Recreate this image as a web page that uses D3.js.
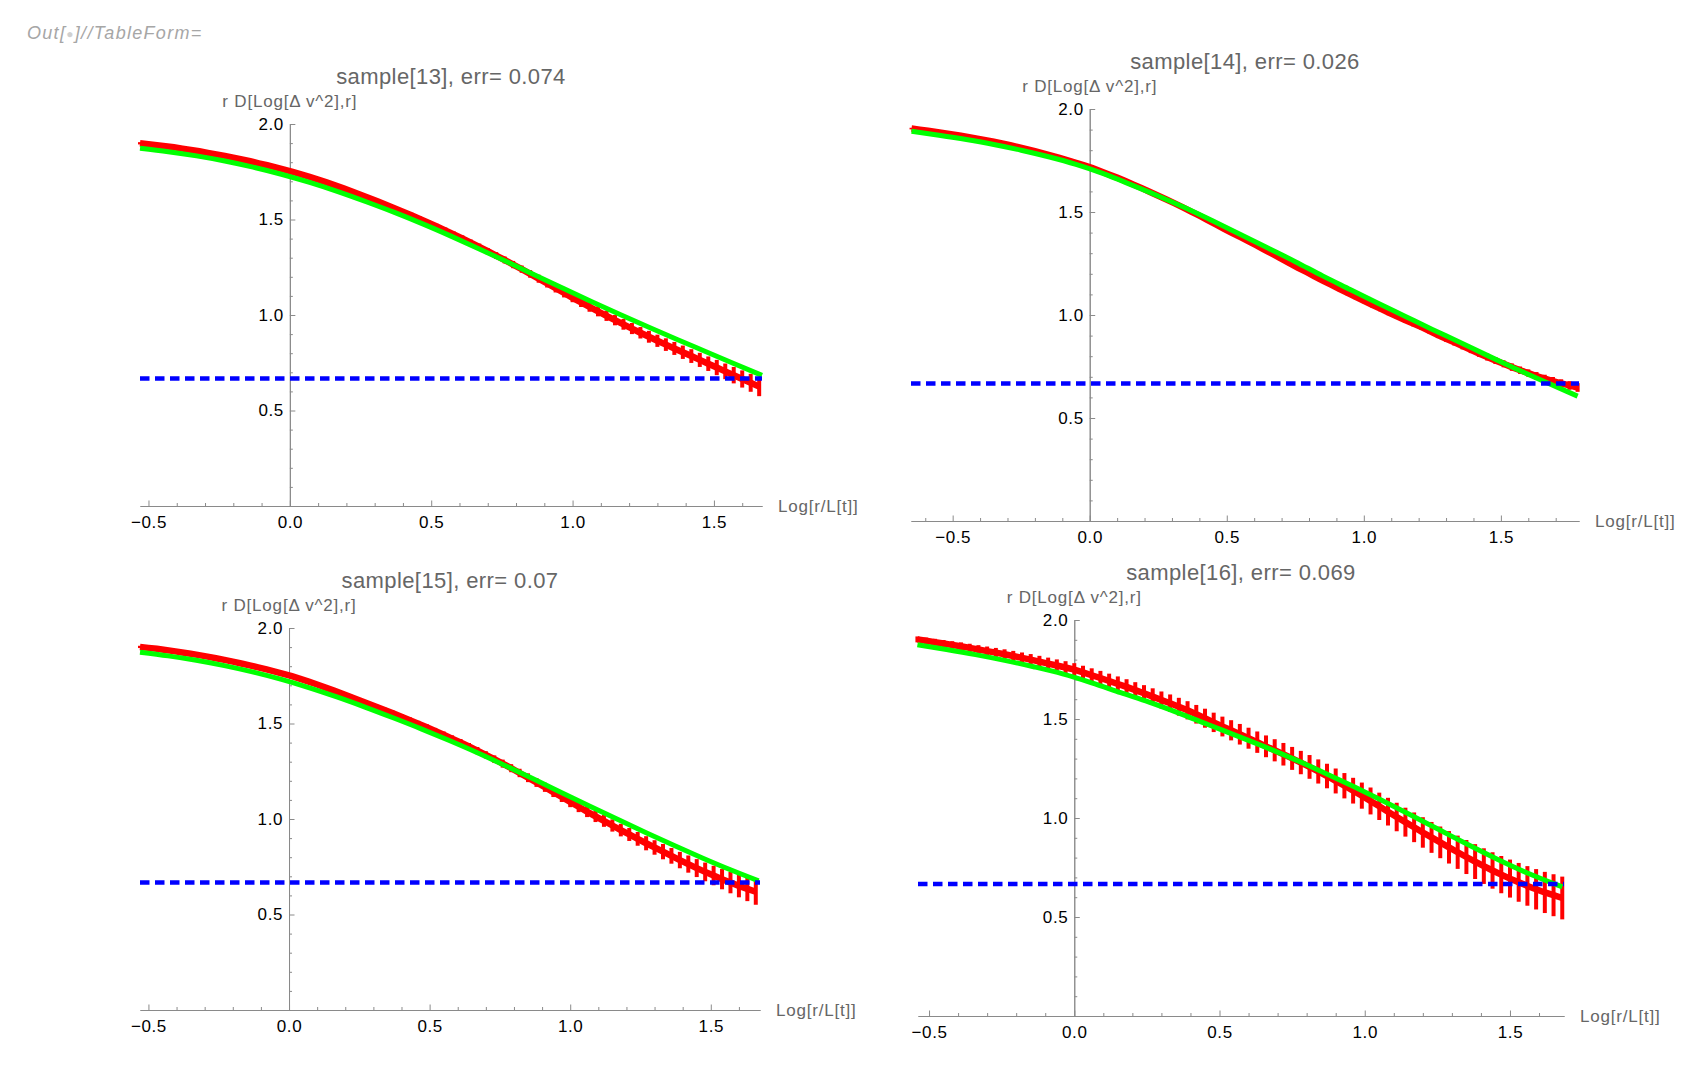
<!DOCTYPE html>
<html>
<head>
<meta charset="utf-8">
<script src="https://cdn.jsdelivr.net/npm/d3@7"></script>
<style>
  body { margin: 0; background: #fff; }
  text { font-family: "Liberation Sans", Arial, sans-serif; }
</style>
</head>
<body>
<svg id="chart" width="1698" height="1078"></svg>
<script>
// ---- data ----
const sampleIds = [13, 14, 15, 16];
const errLabels = ["0.074", "0.026", "0.07", "0.069"];
const xTicks = [-0.5, 0, 0.5, 1.0, 1.5];
const yTicks = [0.5, 1.0, 1.5, 2.0];
const plateauLevel = 0.667; // blue dashed reference
const xDomains = [[-0.53, 1.67], [-0.652, 1.785], [-0.53, 1.675], [-0.538, 1.686]];

// x grids of the red error-bar points
const xGridA = [-0.53,-0.50,-0.47,-0.44,-0.41,-0.38,-0.35,-0.32,-0.29,-0.26,
  -0.23,-0.20,-0.17,-0.14,-0.11,-0.08,-0.05,-0.02,0.01,0.04,
  0.07,0.10,0.13,0.16,0.19,0.22,0.25,0.28,0.31,0.34,
  0.37,0.40,0.43,0.46,0.49,0.52,0.55,0.58,0.61,0.64,
  0.67,0.70,0.73,0.76,0.79,0.82,0.85,0.88,0.91,0.94,
  0.97,1.00,1.03,1.06,1.09,1.12,1.15,1.18,1.21,1.24,
  1.27,1.30,1.33,1.36,1.39,1.42,1.45,1.48,1.51,1.54,
  1.57,1.60,1.63,1.66];
const xGridB = [-0.65,-0.62,-0.59,-0.56,-0.53,-0.50,-0.47,-0.44,-0.41,-0.38,
  -0.35,-0.32,-0.29,-0.26,-0.23,-0.20,-0.17,-0.14,-0.11,-0.08,
  -0.05,-0.02,0.01,0.04,0.07,0.10,0.13,0.16,0.19,0.22,
  0.25,0.28,0.31,0.34,0.37,0.40,0.43,0.46,0.49,0.52,
  0.55,0.58,0.61,0.64,0.67,0.70,0.73,0.76,0.79,0.82,
  0.85,0.88,0.91,0.94,0.97,1.00,1.03,1.06,1.09,1.12,
  1.15,1.18,1.21,1.24,1.27,1.30,1.33,1.36,1.39,1.42,
  1.45,1.48,1.51,1.54,1.57,1.60,1.63,1.66,1.69,1.72,
  1.75,1.78];
const xGridD = [-0.54,-0.51,-0.48,-0.45,-0.42,-0.39,-0.36,-0.33,-0.30,-0.27,
  -0.24,-0.21,-0.18,-0.15,-0.12,-0.09,-0.06,-0.03,0.00,0.03,
  0.06,0.09,0.12,0.15,0.18,0.21,0.24,0.27,0.30,0.33,
  0.36,0.39,0.42,0.45,0.48,0.51,0.54,0.57,0.60,0.63,
  0.66,0.69,0.72,0.75,0.78,0.81,0.84,0.87,0.90,0.93,
  0.96,0.99,1.02,1.05,1.08,1.11,1.14,1.17,1.20,1.23,
  1.26,1.29,1.32,1.35,1.38,1.41,1.44,1.47,1.50,1.53,
  1.56,1.59,1.62,1.65,1.68];

// red measured values (mean) and half error
const red13 = [1.899,1.894,1.889,1.884,1.878,1.871,1.864,1.857,1.849,1.841,
  1.833,1.824,1.814,1.805,1.794,1.784,1.773,1.761,1.749,1.736,
  1.723,1.709,1.694,1.679,1.663,1.646,1.629,1.612,1.595,1.577,
  1.559,1.541,1.522,1.503,1.483,1.463,1.443,1.422,1.401,1.379,
  1.357,1.334,1.311,1.288,1.264,1.240,1.215,1.190,1.165,1.140,
  1.115,1.090,1.066,1.042,1.019,0.996,0.973,0.951,0.929,0.907,
  0.886,0.865,0.845,0.825,0.805,0.785,0.765,0.745,0.725,0.705,
  0.685,0.665,0.645,0.625];
const err13 = [0.006,0.006,0.006,0.006,0.006,0.007,0.007,0.007,0.007,0.007,
  0.007,0.007,0.008,0.008,0.008,0.008,0.008,0.009,0.009,0.009,
  0.009,0.010,0.010,0.010,0.010,0.011,0.011,0.011,0.012,0.012,
  0.012,0.013,0.013,0.013,0.014,0.014,0.015,0.015,0.016,0.016,
  0.017,0.017,0.018,0.018,0.019,0.019,0.020,0.021,0.021,0.022,
  0.023,0.023,0.024,0.025,0.026,0.027,0.027,0.028,0.029,0.030,
  0.031,0.032,0.033,0.034,0.035,0.036,0.037,0.038,0.040,0.041,
  0.043,0.045,0.047,0.050];

const red14 = [1.905,1.900,1.894,1.888,1.882,1.876,1.870,1.863,1.856,1.849,
  1.841,1.833,1.824,1.815,1.805,1.795,1.785,1.774,1.763,1.751,
  1.739,1.727,1.713,1.698,1.682,1.667,1.651,1.633,1.616,1.597,
  1.579,1.561,1.542,1.522,1.502,1.482,1.461,1.440,1.418,1.398,
  1.378,1.357,1.337,1.315,1.294,1.272,1.251,1.229,1.209,1.188,
  1.167,1.147,1.127,1.108,1.088,1.069,1.049,1.031,1.012,0.994,
  0.976,0.959,0.941,0.922,0.903,0.885,0.867,0.849,0.831,0.813,
  0.796,0.779,0.763,0.747,0.732,0.718,0.704,0.691,0.679,0.668,
  0.658,0.648];
const err14 = [0.004,0.004,0.004,0.004,0.004,0.004,0.004,0.004,0.004,0.004,
  0.004,0.004,0.005,0.005,0.005,0.005,0.005,0.005,0.005,0.005,
  0.006,0.006,0.006,0.006,0.006,0.006,0.006,0.006,0.006,0.006,
  0.006,0.007,0.007,0.007,0.007,0.007,0.008,0.008,0.008,0.008,
  0.008,0.009,0.009,0.009,0.009,0.010,0.010,0.010,0.010,0.011,
  0.011,0.011,0.011,0.012,0.012,0.012,0.012,0.013,0.013,0.013,
  0.013,0.014,0.014,0.014,0.015,0.015,0.015,0.016,0.016,0.016,
  0.017,0.017,0.017,0.018,0.018,0.018,0.019,0.019,0.020,0.020,
  0.021,0.021];

const red15 = [1.901,1.896,1.891,1.885,1.879,1.872,1.865,1.858,1.850,1.842,
  1.833,1.824,1.814,1.804,1.794,1.783,1.772,1.760,1.748,1.734,
  1.719,1.704,1.688,1.672,1.655,1.638,1.621,1.604,1.587,1.570,
  1.553,1.535,1.517,1.499,1.480,1.461,1.441,1.421,1.401,1.380,
  1.358,1.336,1.313,1.290,1.266,1.241,1.216,1.191,1.166,1.140,
  1.115,1.089,1.064,1.039,1.014,0.990,0.966,0.942,0.919,0.896,
  0.873,0.851,0.829,0.807,0.785,0.764,0.743,0.723,0.704,0.685,
  0.667,0.650,0.634,0.619];
const err15 = [0.006,0.006,0.006,0.006,0.007,0.007,0.007,0.007,0.007,0.008,
  0.008,0.008,0.008,0.009,0.009,0.009,0.009,0.010,0.010,0.010,
  0.010,0.011,0.011,0.011,0.012,0.012,0.012,0.013,0.013,0.013,
  0.014,0.014,0.015,0.015,0.016,0.016,0.017,0.017,0.018,0.018,
  0.019,0.019,0.020,0.021,0.021,0.022,0.023,0.023,0.024,0.025,
  0.026,0.027,0.028,0.029,0.030,0.031,0.032,0.033,0.034,0.036,
  0.037,0.038,0.040,0.041,0.043,0.045,0.047,0.049,0.051,0.053,
  0.056,0.060,0.064,0.068];

const red16 = [1.902,1.895,1.888,1.881,1.874,1.867,1.859,1.851,1.843,1.835,
  1.827,1.818,1.809,1.800,1.790,1.780,1.770,1.760,1.749,1.735,
  1.721,1.707,1.692,1.677,1.662,1.646,1.630,1.613,1.596,1.580,
  1.562,1.544,1.524,1.504,1.483,1.462,1.443,1.423,1.403,1.383,
  1.362,1.342,1.322,1.301,1.280,1.258,1.235,1.212,1.187,1.163,
  1.138,1.113,1.086,1.059,1.032,1.005,0.979,0.953,0.927,0.902,
  0.877,0.852,0.827,0.803,0.780,0.757,0.735,0.714,0.694,0.675,
  0.657,0.640,0.624,0.610,0.596];
const err16 = [0.015,0.016,0.017,0.018,0.019,0.020,0.021,0.022,0.023,0.024,
  0.025,0.026,0.027,0.028,0.029,0.030,0.031,0.032,0.033,0.034,
  0.035,0.036,0.037,0.038,0.039,0.040,0.041,0.042,0.043,0.044,
  0.045,0.046,0.047,0.048,0.049,0.050,0.051,0.052,0.053,0.054,
  0.055,0.056,0.057,0.058,0.059,0.060,0.061,0.062,0.063,0.064,
  0.065,0.066,0.068,0.069,0.070,0.072,0.073,0.075,0.077,0.078,
  0.080,0.082,0.084,0.086,0.088,0.090,0.092,0.094,0.096,0.098,
  0.100,0.102,0.104,0.106,0.108];

// green fitted curves
const greenXA = [-0.53,-0.43,-0.33,-0.23,-0.13,-0.03,0.07,0.17,0.27,0.37,0.47,0.57,
  0.67,0.77,0.87,0.97,1.07,1.17,1.27,1.37,1.47,1.57,1.67];
const greenXB = [-0.65,-0.55,-0.45,-0.35,-0.25,-0.15,-0.05,0.05,0.15,0.25,0.35,0.45,
  0.55,0.65,0.75,0.85,0.95,1.05,1.15,1.25,1.35,1.45,1.55,1.65,1.78];
const greenXD = [-0.54,-0.44,-0.34,-0.24,-0.14,-0.04,0.06,0.16,0.26,0.36,0.46,0.56,
  0.66,0.76,0.86,0.96,1.06,1.16,1.26,1.36,1.46,1.56,1.68];
const green13 = [1.873,1.855,1.833,1.806,1.774,1.737,1.694,1.646,1.593,1.537,1.477,1.413,
  1.346,1.277,1.207,1.137,1.068,1.001,0.936,0.872,0.809,0.746,0.684];
const green14 = [1.892,1.873,1.852,1.828,1.800,1.768,1.731,1.686,1.633,1.578,1.519,1.456,
  1.391,1.325,1.259,1.190,1.124,1.058,0.994,0.930,0.868,0.804,0.742,0.682,0.606];
const green15 = [1.873,1.854,1.831,1.803,1.770,1.732,1.688,1.639,1.586,1.530,1.472,1.411,
  1.347,1.279,1.209,1.138,1.067,0.997,0.928,0.861,0.796,0.734,0.676];
const green16 = [1.875,1.851,1.825,1.796,1.764,1.728,1.683,1.633,1.584,1.530,1.472,1.415,
  1.357,1.295,1.229,1.160,1.088,1.014,0.938,0.862,0.789,0.722,0.652];

const panels = [
  { id: sampleIds[0], err: errLabels[0], xDomain: xDomains[0], rx: xGridA, ry: red13, re: err13, gx: greenXA, gy: green13 },
  { id: sampleIds[1], err: errLabels[1], xDomain: xDomains[1], rx: xGridB, ry: red14, re: err14, gx: greenXB, gy: green14 },
  { id: sampleIds[2], err: errLabels[2], xDomain: xDomains[2], rx: xGridA, ry: red15, re: err15, gx: greenXA, gy: green15 },
  { id: sampleIds[3], err: errLabels[3], xDomain: xDomains[3], rx: xGridD, ry: red16, re: err16, gx: greenXD, gy: green16 }
];

// plot boxes on the page
const boxes = [
  { left: 140, right: 762, top: 124, bottom: 506 },
  { left: 911, right: 1579, top: 109, bottom: 521 },
  { left: 140, right: 760, top: 628, bottom: 1010 },
  { left: 918, right: 1564, top: 620, bottom: 1016 }
];

const svg = d3.select("#chart");
const axisColor = "#8a8a8a";
const labelColor = "#666666";

// notebook output label
const out = svg.append("text")
  .attr("x", 27).attr("y", 39)
  .attr("font-size", 18).attr("font-style", "italic")
  .attr("letter-spacing", 1.3)
  .attr("fill", "#a6a6a6");
out.append("tspan").text("Out[");
out.append("tspan").attr("fill", "#d0d0d0").attr("font-size", 12).attr("dy", -1).text("\u25CF");
out.append("tspan").attr("dy", 1).text("]//TableForm=");

const fmt = d => (d < 0 ? "\u2212" : "") + Math.abs(d).toFixed(1);

function drawPanel(p, box) {
  const x = d3.scaleLinear().domain(p.xDomain).range([box.left, box.right]);
  const y = d3.scaleLinear().domain([0, 2]).range([box.bottom, box.top]);
  const g = svg.append("g");

  // x axis: minor then major ticks, pointing into the plot
  const minorX = d3.range(Math.ceil(p.xDomain[0] * 10), Math.floor(p.xDomain[1] * 10) + 1)
    .map(v => v / 10)
    .filter(v => !xTicks.some(t => Math.abs(t - v) < 1e-9));
  const xAxisMinor = g.append("g")
    .attr("transform", `translate(0,${y(0)})`)
    .call(d3.axisBottom(x).tickValues(minorX).tickSizeInner(-3).tickSizeOuter(0).tickFormat(""));
  const xAxis = g.append("g")
    .attr("transform", `translate(0,${y(0)})`)
    .call(d3.axisBottom(x).tickValues(xTicks).tickSizeInner(-5.5).tickSizeOuter(0)
      .tickPadding(10).tickFormat(fmt));

  // y axis at x = 0
  const minorY = d3.range(1, 21).map(v => v / 10)
    .filter(v => !yTicks.some(t => Math.abs(t - v) < 1e-9));
  const yAxisMinor = g.append("g")
    .attr("transform", `translate(${x(0)},0)`)
    .call(d3.axisLeft(y).tickValues(minorY).tickSizeInner(-3).tickSizeOuter(0).tickFormat(""));
  const yAxis = g.append("g")
    .attr("transform", `translate(${x(0)},0)`)
    .call(d3.axisLeft(y).tickValues(yTicks).tickSizeInner(-5.5).tickSizeOuter(0)
      .tickPadding(6).tickFormat(fmt));

  [xAxisMinor, xAxis, yAxisMinor, yAxis].forEach(a => {
    a.select(".domain").attr("stroke", axisColor);
    a.selectAll(".tick line").attr("stroke", axisColor);
    a.selectAll(".tick text")
      .attr("fill", "#000")
      .attr("font-size", 17)
      .attr("letter-spacing", 0.6)
      .style("font-family", '"Liberation Sans", Arial, sans-serif');
  });

  // red error bars and measured values
  const rows = p.rx.map((xv, i) => ({ x: xv, y: p.ry[i], e: p.re[i] }));
  g.append("path")
    .datum(rows)
    .attr("fill", "none")
    .attr("stroke", "#ff0000")
    .attr("stroke-width", 6.5)
    .attr("d", d3.line().x(d => x(d.x)).y(d => y(d.y)));
  g.selectAll("line.err")
    .data(rows)
    .join("line")
    .attr("class", "err")
    .attr("x1", d => x(d.x))
    .attr("x2", d => x(d.x))
    .attr("y1", d => y(d.y - d.e))
    .attr("y2", d => y(d.y + d.e))
    .attr("stroke", "#ff0000")
    .attr("stroke-width", 4);

  // green fit
  const greenRows = p.gx.map((xv, i) => ({ x: xv, y: p.gy[i] }));
  g.append("path")
    .datum(greenRows)
    .attr("fill", "none")
    .attr("stroke", "#00ff00")
    .attr("stroke-width", 5)
    .attr("d", d3.line().curve(d3.curveMonotoneX).x(d => x(d.x)).y(d => y(d.y)));

  // blue dashed plateau
  g.append("path")
    .datum(p.xDomain.map(xv => ({ x: xv, y: plateauLevel })))
    .attr("fill", "none")
    .attr("stroke", "#0000ff")
    .attr("stroke-width", 4.5)
    .attr("stroke-dasharray", "9.5,5.5")
    .attr("d", d3.line().x(d => x(d.x)).y(d => y(d.y)));

  // labels
  g.append("text")
    .attr("x", (box.left + box.right) / 2)
    .attr("y", box.top - 40)
    .attr("text-anchor", "middle")
    .attr("font-size", 22)
    .attr("letter-spacing", 0.4)
    .attr("fill", labelColor)
    .text(`sample[${p.id}], err= ${p.err}`);

  g.append("text")
    .attr("x", x(0))
    .attr("y", box.top - 17)
    .attr("text-anchor", "middle")
    .attr("font-size", 17)
    .attr("letter-spacing", 0.8)
    .attr("fill", labelColor)
    .text("r D[Log[\u0394 v^2],r]");

  g.append("text")
    .attr("x", box.right + 16)
    .attr("y", y(0) + 6)
    .attr("font-size", 17)
    .attr("letter-spacing", 0.8)
    .attr("fill", labelColor)
    .text("Log[r/L[t]]");
}

panels.forEach((p, i) => drawPanel(p, boxes[i]));
</script>
</body>
</html>
